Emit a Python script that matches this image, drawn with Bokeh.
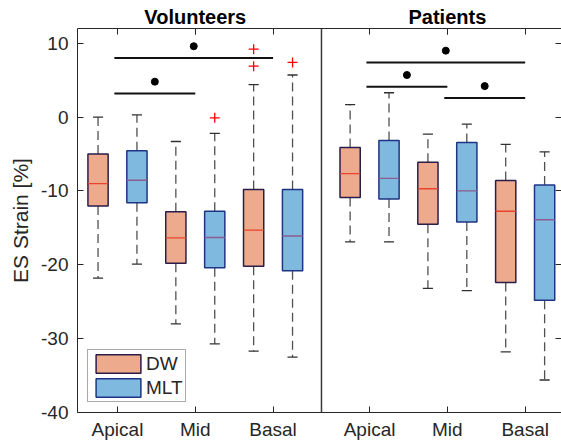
from bokeh.plotting import figure
from bokeh.models import (ColumnDataSource, Range1d, LinearAxis, FixedTicker,
                          Span, Legend, LegendItem)
from bokeh.embed import file_html
from bokeh.resources import INLINE

# ---------------- data ----------------
regions = ["Apical", "Mid", "Basal"]
groups = ["Volunteers", "Patients"]
methods = ["DW", "MLT"]

vol_dw_upper = [0.0, -3.3, 4.4]
vol_dw_q3 = [-5.0, -12.8, -9.8]
vol_dw_med = [-9.0, -16.35, -15.3]
vol_dw_q1 = [-12.05, -19.8, -20.2]
vol_dw_lower = [-21.8, -28.0, -31.7]
vol_dw_out = [[], [], [9.2, 6.9]]

vol_mlt_upper = [0.3, -2.2, 5.7]
vol_mlt_q3 = [-4.55, -12.75, -9.8]
vol_mlt_med = [-8.55, -16.3, -16.1]
vol_mlt_q1 = [-11.6, -20.4, -20.8]
vol_mlt_lower = [-19.9, -30.7, -32.5]
vol_mlt_out = [[], [-0.1], [7.4]]

pat_dw_upper = [1.7, -2.3, -3.7]
pat_dw_q3 = [-4.1, -6.1, -8.6]
pat_dw_med = [-7.65, -9.7, -12.75]
pat_dw_q1 = [-10.9, -14.5, -22.4]
pat_dw_lower = [-16.9, -23.2, -31.8]
pat_dw_out = [[], [], []]

pat_mlt_upper = [3.3, -0.95, -4.7]
pat_mlt_q3 = [-3.15, -3.45, -9.2]
pat_mlt_med = [-8.3, -10.0, -13.9]
pat_mlt_q1 = [-11.1, -14.2, -24.8]
pat_mlt_lower = [-16.9, -23.5, -35.6]
pat_mlt_out = [[], [], []]

# significance bars: region index from, region index to, bar level
vol_sig_from = [0, 0]
vol_sig_to = [1, 2]
vol_sig_level = [3.2, 8.0]
pat_sig_from = [0, 0, 1]
pat_sig_to = [2, 1, 2]
pat_sig_level = [7.4, 4.1, 2.6]

y_ticks = [-40, -30, -20, -10, 0, 10]

# ---------------- layout / style ----------------
panel_start = [1.0, 4.24]
sep_x = 3.622
offs = {"DW": -0.25, "MLT": 0.25}
box_w = 0.26
cap_w = 0.13
fills = {"DW": "#EDAA8C", "MLT": "#80B9DF"}
edges = {"DW": "#2B1D4A", "MLT": "#1E3485"}
med_col = {"DW": "#E8432C", "MLT": "#8A5E90"}
txt = "#262626"
FONT = "Liberation Sans"

stats = {
    ("Volunteers", "DW"): (vol_dw_lower, vol_dw_q1, vol_dw_med, vol_dw_q3, vol_dw_upper, vol_dw_out),
    ("Volunteers", "MLT"): (vol_mlt_lower, vol_mlt_q1, vol_mlt_med, vol_mlt_q3, vol_mlt_upper, vol_mlt_out),
    ("Patients", "DW"): (pat_dw_lower, pat_dw_q1, pat_dw_med, pat_dw_q3, pat_dw_upper, pat_dw_out),
    ("Patients", "MLT"): (pat_mlt_lower, pat_mlt_q1, pat_mlt_med, pat_mlt_q3, pat_mlt_upper, pat_mlt_out),
}

p = figure(width=561, height=442, output_backend="svg", toolbar_location=None,
           x_range=Range1d(0.486, 6.707), y_range=Range1d(-40, 12),
           min_border_left=77, min_border_top=28, min_border_bottom=30,
           min_border_right=0)
p.xgrid.visible = False
p.ygrid.visible = False
p.outline_line_color = None
p.background_fill_color = "white"
p.border_fill_color = "white"

# separator between panels
p.add_layout(Span(location=sep_x, dimension="height", line_color="#3a3a3a", line_width=1.5))

box_renderers = {}
for m in methods:
    xs, lo, q1s, meds, q3s, up = [], [], [], [], [], []
    ox, oy = [], []
    for gi, g in enumerate(groups):
        lower, q1, med, q3, upper, outl = stats[(g, m)]
        for ri in range(len(regions)):
            x = panel_start[gi] + ri + offs[m]
            xs.append(x); lo.append(lower[ri]); q1s.append(q1[ri]); meds.append(med[ri])
            q3s.append(q3[ri]); up.append(upper[ri])
            for v in outl[ri]:
                ox.append(x); oy.append(v)
    src = ColumnDataSource(dict(x=xs, lower=lo, q1=q1s, med=meds, q3=q3s, upper=up,
                                cl=[x - cap_w / 2 for x in xs], cr=[x + cap_w / 2 for x in xs],
                                ml=[x - box_w / 2 for x in xs], mr=[x + box_w / 2 for x in xs]))
    # whiskers
    p.segment(x0="x", y0="q3", x1="x", y1="upper", source=src, line_color="#505050",
              line_width=1.3, line_dash="9 5")
    p.segment(x0="x", y0="q1", x1="x", y1="lower", source=src, line_color="#505050",
              line_width=1.3, line_dash="9 5")
    # caps
    p.segment(x0="cl", y0="upper", x1="cr", y1="upper", source=src, line_color="#303030", line_width=1.3)
    p.segment(x0="cl", y0="lower", x1="cr", y1="lower", source=src, line_color="#303030", line_width=1.3)
    # boxes
    r = p.vbar(x="x", width=box_w, bottom="q1", top="q3", source=src,
               fill_color=fills[m], line_color=edges[m], line_width=1.5)
    box_renderers[m] = r
    # medians
    p.segment(x0="ml", y0="med", x1="mr", y1="med", source=src, line_color=med_col[m], line_width=1.3)
    # outliers
    if ox:
        p.scatter(x=ox, y=oy, marker="cross", size=10, line_color="#FF0000", line_width=1.3)

# significance bars
for gi, (fr, to, lev) in enumerate([(vol_sig_from, vol_sig_to, vol_sig_level),
                                     (pat_sig_from, pat_sig_to, pat_sig_level)]):
    x0 = [panel_start[gi] + a - 0.04 for a in fr]
    x1 = [panel_start[gi] + b for b in to]
    p.segment(x0=x0, y0=lev, x1=x1, y1=lev, line_color="#111111", line_width=2)
    p.scatter(x=[(a + b) / 2 for a, b in zip(x0, x1)], y=[l + 1.6 for l in lev],
              marker="circle", size=7, fill_color="#000000", line_color="#000000")

# axes
tick_pos = [panel_start[gi] + ri for gi in range(len(groups)) for ri in range(len(regions))]
p.xaxis.ticker = FixedTicker(ticks=tick_pos)
p.xaxis.major_label_overrides = {t: regions[i % 3] for i, t in enumerate(tick_pos)}
p.xaxis.major_tick_in = 6
p.xaxis.major_tick_out = 0
p.xaxis.minor_tick_line_color = None
p.xaxis.major_label_standoff = 6
p.xaxis.major_label_text_font = FONT
p.xaxis.major_label_text_font_size = "19px"
p.xaxis.major_label_text_color = txt
p.xaxis.axis_line_color = txt
p.xaxis.major_tick_line_color = txt

p.yaxis.ticker = FixedTicker(ticks=y_ticks)
p.yaxis.major_label_overrides = {t: str(t) for t in y_ticks}
p.yaxis.major_tick_in = 6
p.yaxis.major_tick_out = 0
p.yaxis.minor_tick_line_color = None
p.yaxis.major_label_standoff = 9
p.yaxis.major_label_text_font = FONT
p.yaxis.major_label_text_font_size = "19px"
p.yaxis.major_label_text_color = txt
p.yaxis.axis_line_color = txt
p.yaxis.major_tick_line_color = txt
p.yaxis.axis_label = "ES Strain [%]"
p.yaxis.axis_label_text_font = FONT
p.yaxis.axis_label_text_font_size = "21px"
p.yaxis.axis_label_text_font_style = "normal"
p.yaxis.axis_label_text_color = txt
p.yaxis.axis_label_standoff = 6

# top axis: inward ticks at every region, panel titles as labels at the "Mid" ticks
mid_pos = [panel_start[gi] + 1 for gi in range(len(groups))]
top_ax = LinearAxis(ticker=FixedTicker(ticks=mid_pos, minor_ticks=tick_pos),
                    major_tick_in=6, major_tick_out=0, minor_tick_in=6, minor_tick_out=0,
                    major_label_overrides={t: g for t, g in zip(mid_pos, groups)},
                    major_label_text_font=FONT, major_label_text_font_size="20px",
                    major_label_text_font_style="bold", major_label_text_color="#000000",
                    major_label_standoff=1, axis_line_color=txt,
                    major_tick_line_color=txt, minor_tick_line_color=txt)
p.add_layout(top_ax, "above")
# right axis: inward ticks only
right_ax = LinearAxis(ticker=FixedTicker(ticks=[], minor_ticks=y_ticks),
                      minor_tick_in=6, minor_tick_out=0, major_tick_in=0, major_tick_out=0,
                      major_label_standoff=0, axis_line_color=None, minor_tick_line_color=txt)
p.add_layout(right_ax, "right")

# legend
legend = Legend(items=[LegendItem(label=m, renderers=[box_renderers[m]]) for m in methods],
                location=(10, 10), orientation="vertical",
                glyph_width=56, glyph_height=23, spacing=1, padding=2, margin=0,
                label_standoff=0, label_text_font=FONT, label_text_font_size="19px",
                label_text_color=txt, label_height=23,
                border_line_color="#555555", border_line_width=1,
                background_fill_color="white", background_fill_alpha=1)
p.add_layout(legend, "center")

open("out.html", "w").write(file_html(p, INLINE))
